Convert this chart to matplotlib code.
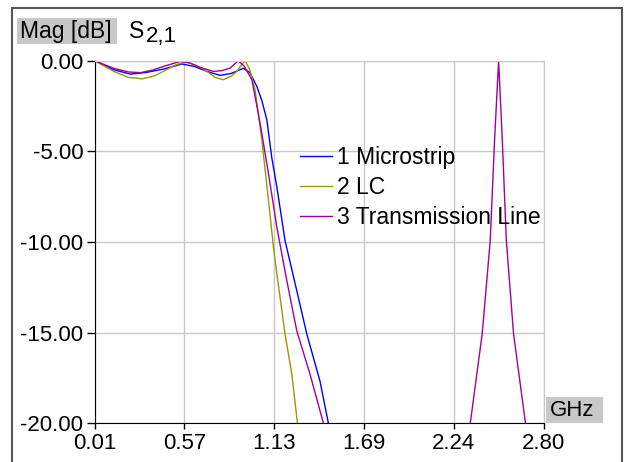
import matplotlib.pyplot as plt
from matplotlib.patches import Rectangle

plt.rcParams['font.family'] = ['Liberation Sans', 'DejaVu Sans']

# S2,1 magnitude curves
micro_ghz = [0.01, 0.13, 0.233, 0.33, 0.44, 0.554, 0.63, 0.709, 0.79, 0.86, 0.935, 0.975,
             1.019, 1.05, 1.081, 1.112, 1.143, 1.194, 1.267, 1.329, 1.411, 1.463]
micro_db = [0, -0.5, -0.74, -0.65, -0.46, -0.18, -0.32, -0.59, -0.81, -0.7, -0.42, -0.65,
            -1.42, -2.2, -3.27, -5.37, -6.96, -9.92, -12.69, -15.07, -17.67, -19.98]

lc_ghz = [0.01, 0.13, 0.22, 0.306, 0.38, 0.438, 0.51, 0.574, 0.64, 0.709, 0.76, 0.81, 0.86,
          0.895, 0.925, 0.946, 0.975, 1.008, 1.05, 1.091, 1.122, 1.143, 1.194, 1.236, 1.271]
lc_db = [0, -0.59, -0.92, -1.0, -0.85, -0.59, -0.25, -0.06, -0.25, -0.59, -0.92, -1.05, -0.85,
         -0.59, -0.2, 0, -0.5, -1.61, -4.38, -7.7, -10.29, -11.74, -15.07, -17.29, -19.98]

tl_ghz = [0.01, 0.13, 0.22, 0.295, 0.37, 0.44, 0.543, 0.60, 0.667, 0.748, 0.80, 0.853, 0.903,
          0.94, 0.988, 1.039, 1.091, 1.143, 1.205, 1.267, 1.349, 1.432]
tl_db = [0, -0.42, -0.62, -0.66, -0.52, -0.31, -0.04, -0.12, -0.37, -0.59, -0.55, -0.41, 0,
         -0.3, -1.05, -3.45, -6.22, -9.18, -12.13, -14.9, -17.29, -19.98]
# second passband of the transmission line filter
tl_spike_ghz = [2.345, 2.419, 2.469, 2.496, 2.521, 2.544, 2.569, 2.614, 2.688]
tl_spike_db = [-20, -15.07, -9.92, -4.38, 0, -4.38, -9.92, -15.07, -20]

x_ticks = [0.01, 0.568, 1.126, 1.684, 2.242, 2.80]
x_labels = ['0.01', '0.57', '1.13', '1.69', '2.24', '2.80']
y_ticks = [0, -5, -10, -15, -20]
y_labels = ['0.00', '-5.00', '-10.00', '-15.00', '-20.00']

fig = plt.figure(figsize=(6.24, 4.62), dpi=100)
W, H = 624.0, 462.0
ax = fig.add_axes([94.5 / W, 1 - 423.3 / H, 449 / W, 362.6 / H])

ax.plot(micro_ghz, micro_db, color='#0000ff', lw=1.0, label='1 Microstrip')
ax.plot(lc_ghz, lc_db, color='#999900', lw=1.0, label='2 LC')
ax.plot(tl_ghz, tl_db, color='#a000a0', lw=1.0, label='3 Transmission Line')
ax.plot(tl_spike_ghz, tl_spike_db, color='#a000a0', lw=1.0)

ax.set_xlim(0.01, 2.80)
ax.set_ylim(-20, 0)
ax.set_xticks(x_ticks)
ax.set_xticklabels(x_labels)
ax.set_yticks(y_ticks)
ax.set_yticklabels(y_labels)
ax.grid(True, color='#c8c8c8', lw=1.0)
ax.set_axisbelow(True)
for s in ['top', 'right']:
    ax.spines[s].set_color('#c8c8c8')
for s in ['left', 'bottom']:
    ax.spines[s].set_color('black')
ax.tick_params(axis='y', length=6, width=1, pad=2, labelsize=16)
ax.tick_params(axis='x', length=4, width=1, pad=3, labelsize=16)

ax.legend(loc='upper left', bbox_to_anchor=(300 / W, 1 - 146 / H),
          bbox_transform=fig.transFigure, frameon=False, fontsize=16.5,
          handlelength=1.4, handletextpad=0.2, labelspacing=0.3,
          borderpad=0, borderaxespad=0)

# outer frame
fig.patches.append(Rectangle((12 / W, -0.05), 610 / W, 1 - 8 / H + 0.05,
                             transform=fig.transFigure, fill=False,
                             edgecolor='#555555', lw=1.5, clip_on=False))

# y label box
fig.patches.append(Rectangle((17 / W, 1 - 44 / H), 100 / W, 26 / H,
                             transform=fig.transFigure, facecolor='#c8c8c8',
                             edgecolor='none'))
fig.text(20 / W, 1 - 31.5 / H, 'Mag [dB]', fontsize=16.5, va='center', ha='left')
fig.text(129 / W, 1 - 37.5 / H, 'S', fontsize=16.5, va='baseline', ha='left')
fig.text(146 / W, 1 - 41.7 / H, '2,1', fontsize=16, va='baseline', ha='left')

# x unit box
fig.patches.append(Rectangle((546 / W, 1 - 423 / H), 57 / W, 26 / H,
                             transform=fig.transFigure, facecolor='#c8c8c8',
                             edgecolor='none'))
fig.text(550 / W, 1 - 411 / H, 'GHz', fontsize=16, va='center', ha='left')

fig.savefig('out.png', dpi=100)
